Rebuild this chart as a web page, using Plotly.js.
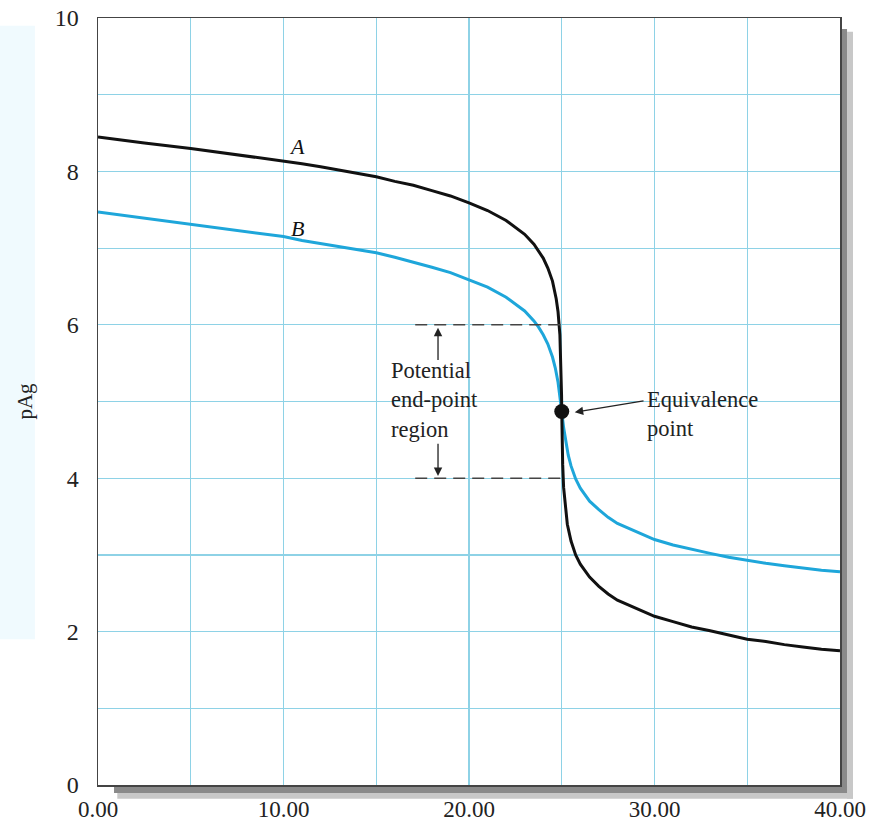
<!DOCTYPE html>
<html>
<head>
<meta charset="utf-8">
<script src="https://cdn.plot.ly/plotly-3.0.1.min.js"></script>
<style>html,body{margin:0;padding:0;background:#fff;}#chart{width:873px;height:824px;}</style>
</head>
<body>
<div id="chart"></div>
<script>
// Curve A (black)
const volA = [0,2.5,5,7.5,10,11,12,13,14,15,16,17,18,19,20,21,22,23,23.5,24,24.25,24.5,24.7,24.8,24.9,24.95,24.99,25,25.01,25.05,25.1,25.2,25.3,25.5,25.75,26,26.5,27,27.5,28,29,30,31,32,33,34,35,36,37,38,39,40];
const pAgA = [8.45,8.37,8.30,8.22,8.14,8.10,8.06,8.02,7.97,7.93,7.87,7.82,7.75,7.68,7.59,7.49,7.36,7.18,7.05,6.87,6.74,6.57,6.34,6.17,5.87,5.56,5.08,4.87,4.66,4.18,3.88,3.58,3.40,3.18,3.00,2.88,2.71,2.59,2.49,2.41,2.30,2.20,2.13,2.06,2.01,1.95,1.90,1.87,1.83,1.80,1.77,1.75];
// Curve B (blue)
const volB = [0,2.5,5,7.5,10,11,12,13,14,15,16,17,18,19,20,21,22,23,23.5,23.75,24,24.25,24.5,24.65,24.8,24.9,25,25.1,25.2,25.35,25.5,25.75,26,26.5,27,27.5,28,29,30,31,32,33,34,35,36,37,38,39,40];
const pAgB = [7.47,7.39,7.31,7.23,7.15,7.10,7.06,7.02,6.98,6.94,6.88,6.82,6.75,6.68,6.59,6.49,6.36,6.18,6.05,5.97,5.87,5.75,5.58,5.44,5.25,5.08,4.87,4.66,4.49,4.30,4.16,3.99,3.87,3.70,3.59,3.49,3.41,3.30,3.20,3.13,3.07,3.02,2.97,2.93,2.89,2.86,2.83,2.80,2.78];
// Equivalence point
const eqX = [25];
const eqY = [4.87];
// Ticks
const xTickVals = [0,5,10,15,20,25,30,35,40];
const xTickText = ['0.00','','10.00','','20.00','','30.00','','40.00'];
const yTickVals = [0,1,2,3,4,5,6,7,8,9,10];
const yTickText = ['0','','2','','4','','6','','8','','10'];
// Endpoint region bounds
const regionTop = 6, regionBottom = 4, regionX0 = 17.1, regionX1 = 25;

const serif = 'Liberation Serif, Times New Roman, serif';
const grid = '#8ed2e6';

const traces = [
  {x: volB, y: pAgB, mode: 'lines', line: {color: '#1ea6da', width: 3}, hoverinfo: 'skip'},
  {x: volA, y: pAgA, mode: 'lines', line: {color: '#111111', width: 3}, hoverinfo: 'skip'},
  {x: eqX, y: eqY, mode: 'markers', marker: {color: '#111111', size: 15}, hoverinfo: 'skip'}
];

const layout = {
  width: 873, height: 824,
  margin: {l: 98, r: 33, t: 18, b: 39},
  paper_bgcolor: '#ffffff',
  plot_bgcolor: '#ffffff',
  showlegend: false,
  font: {family: serif, size: 22, color: '#222'},
  xaxis: {
    range: [0, 40], tickmode: 'array', tickvals: xTickVals, ticktext: xTickText,
    showgrid: true, gridcolor: grid, gridwidth: 1.2, zeroline: false,
    showline: true, linecolor: '#444', linewidth: 1.5, mirror: true,
    ticks: '', ticklabelstandoff: 3, tickfont: {family: serif, size: 23, color: '#222'}
  },
  yaxis: {
    range: [0, 10], tickmode: 'array', tickvals: yTickVals, ticktext: yTickText,
    showgrid: true, gridcolor: grid, gridwidth: 1.2, zeroline: false,
    showline: true, linecolor: '#444', linewidth: 1.5, mirror: true,
    ticks: '', ticklabelstandoff: 13, tickfont: {family: serif, size: 24, color: '#222'},
    title: {text: 'pAg', font: {family: serif, size: 21, color: '#222'}, standoff: 16}
  },
  shapes: [
    {type: 'rect', xref: 'paper', yref: 'paper', x0: -0.1321, x1: -0.085, y0: 0.19, y1: 0.99,
     fillcolor: '#f0fafe', line: {width: 0}, layer: 'below'},
    // shadow: right band
    {type: 'rect', xref: 'paper', yref: 'paper', x0: 1.001, x1: 1.0095, y0: -0.0143, y1: 0.9857,
     fillcolor: '#8a8a8a', line: {width: 0}, layer: 'below'},
    {type: 'rect', xref: 'paper', yref: 'paper', x0: 1.0095, x1: 1.0175, y0: -0.018, y1: 0.982,
     fillcolor: '#c8c8c8', line: {width: 0}, layer: 'below'},
    // shadow: bottom band
    {type: 'rect', xref: 'paper', yref: 'paper', x0: 0.0216, x1: 1.0095, y0: -0.0105, y1: -0.001,
     fillcolor: '#8a8a8a', line: {width: 0}, layer: 'below'},
    {type: 'rect', xref: 'paper', yref: 'paper', x0: 0.026, x1: 1.0175, y0: -0.018, y1: -0.0105,
     fillcolor: '#c8c8c8', line: {width: 0}, layer: 'below'},
    {type: 'line', xref: 'x', yref: 'y', x0: regionX0, x1: regionX1, y0: regionTop, y1: regionTop,
     line: {color: '#444', width: 1.5, dash: '12px,7px'}},
    {type: 'line', xref: 'x', yref: 'y', x0: regionX0, x1: regionX1, y0: regionBottom, y1: regionBottom,
     line: {color: '#444', width: 1.5, dash: '12px,7px'}}
  ],
  annotations: [
    {x: 10.73, y: 8.33, text: '<i>A</i>', showarrow: false, xanchor: 'center', yanchor: 'middle', font: {family: serif, size: 22, color: '#111'}},
    {x: 10.73, y: 7.26, text: '<i>B</i>', showarrow: false, xanchor: 'center', yanchor: 'middle', font: {family: serif, size: 22, color: '#111'}},
    {x: 15.69, y: 5.02, text: 'Potential<br>end-point<br>region', showarrow: false, xanchor: 'left', yanchor: 'middle', align: 'left', font: {family: serif, size: 22.5, color: '#222'}},
    {x: 29.49, y: 4.84, text: 'Equivalence<br>point', showarrow: false, xanchor: 'left', yanchor: 'middle', align: 'left', font: {family: serif, size: 22.5, color: '#222'}},
    {x: 25.7, y: 4.86, ax: 29.49, ay: 5.01, axref: 'x', ayref: 'y', xref: 'x', yref: 'y', text: '', showarrow: true,
     arrowhead: 2, arrowsize: 1.3, arrowwidth: 1.3, arrowcolor: '#222'},
    {x: 18.33, y: 5.96, ax: 18.33, ay: 5.52, axref: 'x', ayref: 'y', xref: 'x', yref: 'y', text: '', showarrow: true,
     arrowhead: 2, arrowsize: 1.3, arrowwidth: 1.3, arrowcolor: '#222'},
    {x: 18.33, y: 4.03, ax: 18.33, ay: 4.47, axref: 'x', ayref: 'y', xref: 'x', yref: 'y', text: '', showarrow: true,
     arrowhead: 2, arrowsize: 1.3, arrowwidth: 1.3, arrowcolor: '#222'}
  ]
};

Plotly.newPlot('chart', traces, layout, {displayModeBar: false, staticPlot: true});
</script>
</body>
</html>
